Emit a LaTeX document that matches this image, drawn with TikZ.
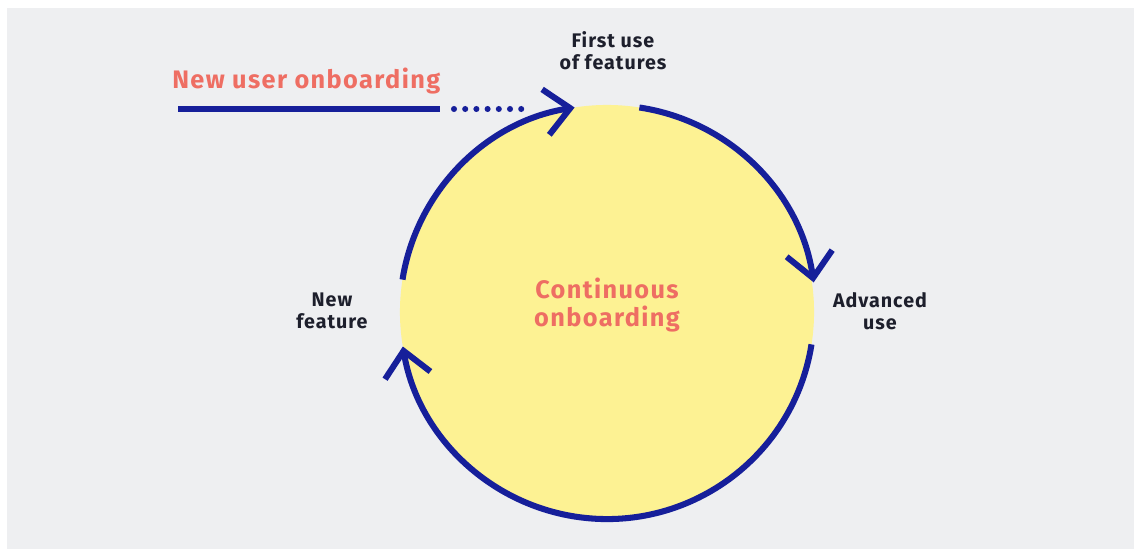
\documentclass[tikz,border=0pt]{standalone}
\usepackage{fontspec}
\setmainfont{Fira Sans}
\usetikzlibrary{arrows.meta}
\definecolor{bgrey}{HTML}{EEEFF1}
\definecolor{loopyellow}{HTML}{FDF293}
\definecolor{loopblue}{HTML}{161F9A}
\definecolor{salmon}{HTML}{EE6E63}
\definecolor{inkdark}{HTML}{1D1F2C}
\begin{document}
\begin{tikzpicture}[x=0.025cm, y=0.025cm,
    ring/.style={draw=loopblue, line width=4.3pt},
    tip/.style={-{Straight Barb[length=0.62cm, width=1.15cm]}},
    stage/.style={text=inkdark, font=\bfseries\fontsize{14}{15.6}\selectfont\addfontfeatures{LetterSpace=5}, align=center, inner sep=0},
    title/.style={text=salmon, font=\bfseries\fontsize{18}{20}\selectfont\addfontfeatures{LetterSpace=5.5}, align=center, inner sep=0}]
  \fill[white] (0,0) rectangle (1134,549);
  \fill[bgrey] (7,0) rectangle (1134,541);
  \useasboundingbox (0,0) rectangle (1134,549);
  \node [circle, fill=loopyellow, minimum size=10.35cm, inner sep=0, outer sep=0] (loop) at (607,237) {};
  \node [title] (cont) at (607,244) {Continuous\\onboarding};
  \node [title, anchor=west] (newuser) at (172,468) {New user onboarding};
  \node [stage] (first) at (613,498) {First use\\of features};
  \node [stage] (adv) at (880,238) {Advanced\\use};
  \node [stage] (feat) at (332,238) {New\\feature};
  % incoming line
  \coordinate (in) at (178,440);
  \coordinate (solidend) at (440,440);
  \coordinate (dotstart) at (454,440);
  \coordinate (dotend) at (526,440);
  \draw [draw=loopblue, line width=4.3pt] (in) -- (solidend);
  \draw [draw=loopblue, line width=4.3pt, line cap=round, dash pattern=on 0pt off 0.28cm] (dotstart) -- (dotend);
  % the loop
  \draw [ring, tip] (loop.171) arc[start angle=171, end angle=99, radius=5.175cm];
  \draw [ring, tip] (loop.81.5) arc[start angle=81.5, end angle=8.3, radius=5.175cm];
  \draw [ring, tip] (loop.-9) arc[start angle=-9, end angle=-170.4, radius=5.175cm];
\end{tikzpicture}
\end{document}
